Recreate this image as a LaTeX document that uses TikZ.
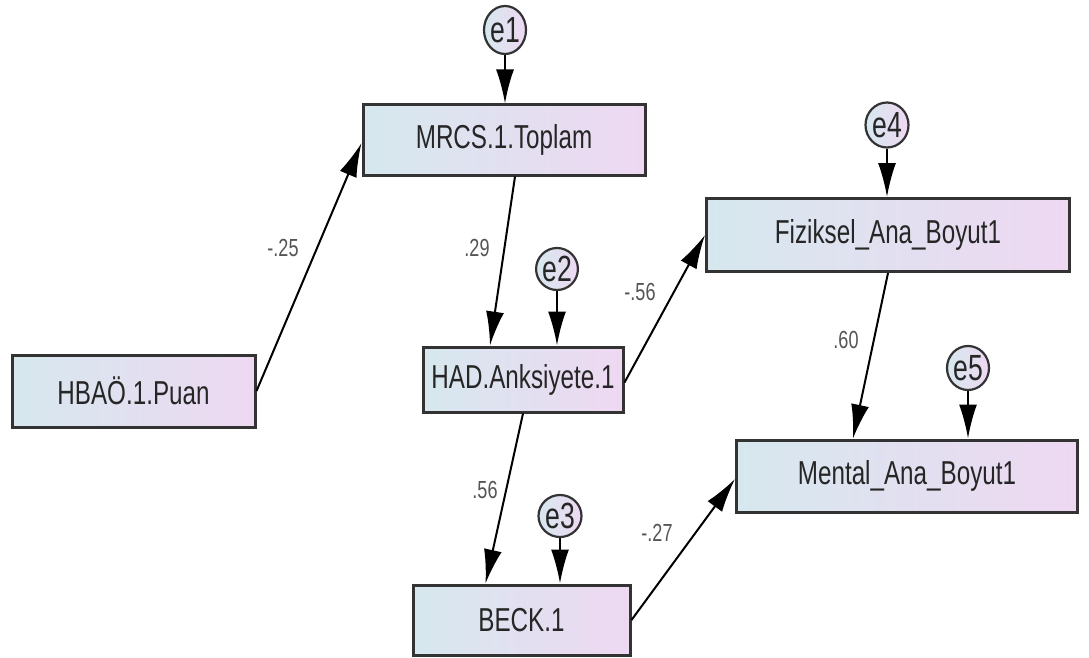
\documentclass[tikz,border=0pt]{standalone}
\usepackage{fontspec}
\setmainfont{Liberation Sans}
\usetikzlibrary{arrows.meta,shapes.geometric}
\definecolor{boxL}{HTML}{D6E8EE}
\definecolor{boxR}{HTML}{EED8F2}
\definecolor{edgeC}{HTML}{333333}
\definecolor{lblC}{HTML}{555555}
\tikzset{
  var/.style={draw=edgeC, line width=3pt, left color=boxL, right color=boxR, inner sep=0pt,
    font=\fontsize{25.5}{30}\selectfont, text=black!85},
  err/.style={ellipse, draw=edgeC, line width=2.2pt, left color=boxL, right color=boxR, inner sep=0pt,
    font=\fontsize{28}{30}\selectfont, text=black!85},
  sempath/.style={draw=black, line width=2pt, -{Latex[length=34pt,width=18pt]}},
  coef/.style={font=\fontsize{19}{22}\selectfont, text=lblC}
}
\newcommand{\tall}[1]{\scalebox{0.95}[1.3]{#1}}
\begin{document}
\begin{tikzpicture}[x=1pt,y=-1pt]
\useasboundingbox (0,0) rectangle (1089,658);
% observed variables
\node[var, minimum width=282pt, minimum height=70pt] (mrcs) at (504,140) {\tall{MRCS.1.Toplam}};
\node[var, minimum width=243pt, minimum height=72pt] (hbao) at (133.5,391) {\tall{HBAÖ.1.Puan}};
\node[var, minimum width=200pt, minimum height=65pt] (had) at (523,379.5) {\tall{HAD.Anksiyete.1}};
\node[var, minimum width=363pt, minimum height=73pt] (fiz) at (888,235) {\tall{Fiziksel\_Ana\_Boyut1}};
\node[var, minimum width=341pt, minimum height=72pt] (men) at (907,476) {\tall{Mental\_Ana\_Boyut1}};
\node[var, minimum width=217pt, minimum height=70pt] (beck) at (521.5,620) {\tall{BECK.1}};
% errors
\node[err, minimum width=42pt, minimum height=48pt] (e1) at (505,30) {\tall{e1}};
\node[err, minimum width=40pt, minimum height=42pt] (e2) at (557,269) {\tall{e2}};
\node[err, minimum width=43pt, minimum height=42pt] (e3) at (560,516) {\tall{e3}};
\node[err, minimum width=43pt, minimum height=45pt] (e4) at (887,125) {\tall{e4}};
\node[err, minimum width=42pt, minimum height=44pt] (e5) at (968,368) {\tall{e5}};
% error paths
\draw[sempath] (e1.south) -- (e1.south |- mrcs.north);
\draw[sempath] (e2.south) -- (e2.south |- had.north);
\draw[sempath] (e3.south) -- (e3.south |- beck.north);
\draw[sempath] (e4.south) -- (e4.south |- fiz.north);
\draw[sempath] (e5.south) -- (e5.south |- men.north);
% structural paths
\draw[sempath] (hbao.east) -- ([yshift=-3pt]mrcs.west);
\draw[sempath] ([xshift=11pt]mrcs.south) -- ([xshift=-33pt]had.north);
\draw[sempath] ([yshift=-3pt]had.east) -- (fiz.west);
\draw[sempath] (had.south) -- ([xshift=-36pt]beck.north);
\draw[sempath] (beck.east) -- ([yshift=-3pt]men.west);
\draw[sempath] (fiz.south) -- ([xshift=-54pt]men.north);
% coefficients
\node[coef] (c1) at (283,248) {\tall{-.25}};
\node[coef] (c2) at (477,248) {\tall{.29}};
\node[coef] (c3) at (640,292) {\tall{-.56}};
\node[coef] (c4) at (485,490) {\tall{.56}};
\node[coef] (c5) at (657,533) {\tall{-.27}};
\node[coef] (c6) at (846,340) {\tall{.60}};
\end{tikzpicture}
\end{document}
